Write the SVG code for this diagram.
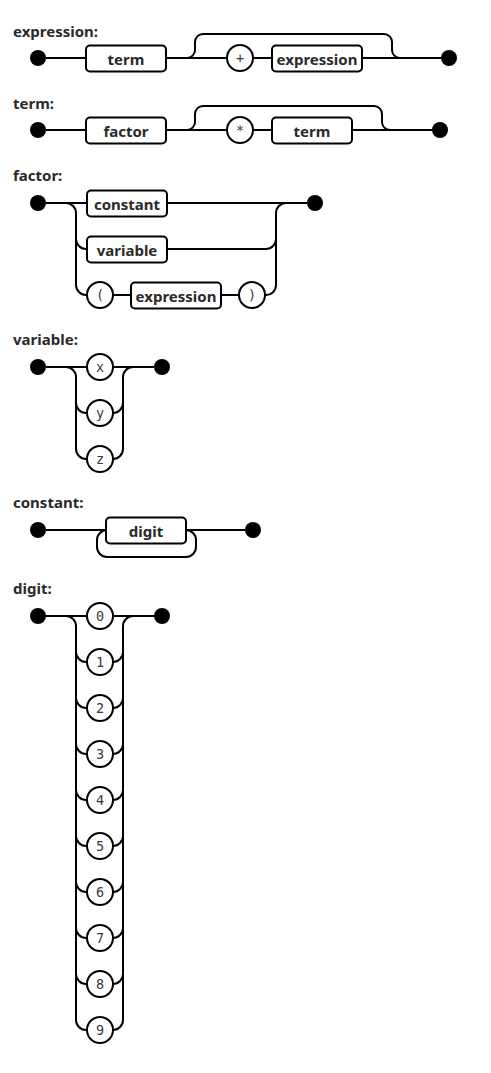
<svg xmlns="http://www.w3.org/2000/svg" width="491" height="1073" viewBox="0 0 491 1073">
<style>
.bg{fill:#fff}
.ln{fill:none;stroke:#000;stroke-width:2}
.dot{fill:#000}
.nt rect{fill:#fff;stroke:#000;stroke-width:2}
.t circle{fill:#fff;stroke:#000;stroke-width:2}
.nt text{font-family:"Noto Sans","Open Sans","DejaVu Sans",sans-serif;font-weight:700;font-size:15px;fill:#2a2a2a;text-anchor:middle}
.t text{font-family:"DejaVu Sans Mono","Liberation Mono",monospace;font-size:13.5px;fill:#3a3a3a;text-anchor:middle}
.lbl{font-family:"Noto Sans","Open Sans","DejaVu Sans",sans-serif;font-weight:700;font-size:15px;fill:#2a2a2a}
</style>
<rect class="bg" x="0" y="0" width="491" height="1073"/>

<g id="labels">
<text class="lbl" x="13" y="37">expression:</text>
<text class="lbl" x="13" y="109">term:</text>
<text class="lbl" x="13" y="181">factor:</text>
<text class="lbl" x="13" y="345">variable:</text>
<text class="lbl" x="13" y="508">constant:</text>
<text class="lbl" x="13" y="594">digit:</text>
</g>

<g id="connectors">
<path class="ln" d="M46,58 H441"/>
<path class="ln" d="M187,58 A8,8 0 0 0 195,50 V42 A8,8 0 0 1 203,34 H384 A8,8 0 0 1 392,42 V50 A8,8 0 0 0 400,58"/>
<path class="ln" d="M46,130 H432"/>
<path class="ln" d="M187,130 A8,8 0 0 0 195,122 V114 A8,8 0 0 1 203,106 H374 A8,8 0 0 1 382,114 V122 A8,8 0 0 0 390,130"/>
<path class="ln" d="M46,203 H307"/>
<path class="ln" d="M66,203 A10,10 0 0 1 76,213 V285 A10,10 0 0 0 86,295 H265"/>
<path class="ln" d="M76,239 A10,10 0 0 0 86,249 H266 A10,10 0 0 0 276,239"/>
<path class="ln" d="M265,295 A10,10 0 0 0 276,285 V213 A10,10 0 0 1 286,203"/>
<path class="ln" d="M46,367 H154"/>
<path class="ln" d="M66,367 A10,10 0 0 1 76,377 V449 A10,10 0 0 0 86,459 H113 A10,10 0 0 0 123,449 V377 A10,10 0 0 1 133,367"/>
<path class="ln" d="M76,403 A10,10 0 0 0 86,413 H113 A10,10 0 0 0 123,403"/>
<path class="ln" d="M46,530 H245"/>
<path class="ln" d="M107,530 A10,10 0 0 0 97,540 V547 A10,10 0 0 0 107,557 H186 A10,10 0 0 0 196,547 V540 A10,10 0 0 0 186,530"/>
<path class="ln" d="M46,616 H154"/>
<path class="ln" d="M66,616 A10,10 0 0 1 76,626 V1020 A10,10 0 0 0 86,1030 H113 A10,10 0 0 0 123,1020 V626 A10,10 0 0 1 133,616"/>
<path class="ln" d="M76,652 A10,10 0 0 0 86,662 H113 A10,10 0 0 0 123,652 M76,698 A10,10 0 0 0 86,708 H113 A10,10 0 0 0 123,698 M76,744 A10,10 0 0 0 86,754 H113 A10,10 0 0 0 123,744 M76,790 A10,10 0 0 0 86,800 H113 A10,10 0 0 0 123,790 M76,836 A10,10 0 0 0 86,846 H113 A10,10 0 0 0 123,836 M76,882 A10,10 0 0 0 86,892 H113 A10,10 0 0 0 123,882 M76,928 A10,10 0 0 0 86,938 H113 A10,10 0 0 0 123,928 M76,974 A10,10 0 0 0 86,984 H113 A10,10 0 0 0 123,974"/>
</g>

<g id="endpoints">
<circle class="dot" cx="38" cy="58" r="8"/><circle class="dot" cx="449" cy="58" r="8"/>
<circle class="dot" cx="38" cy="130" r="8"/><circle class="dot" cx="440" cy="130" r="8"/>
<circle class="dot" cx="38" cy="203" r="8"/><circle class="dot" cx="315" cy="203" r="8"/>
<circle class="dot" cx="38" cy="367" r="8"/><circle class="dot" cx="162" cy="367" r="8"/>
<circle class="dot" cx="38" cy="530" r="8"/><circle class="dot" cx="253" cy="530" r="8"/>
<circle class="dot" cx="38" cy="616" r="8"/><circle class="dot" cx="162" cy="616" r="8"/>
</g>

<g id="expr-term" class="nt"><rect x="86" y="45.5" width="80" height="26" rx="4"/><text x="126" y="64.5">term</text></g>
<g id="expr-plus" class="t"><circle cx="240" cy="58" r="13"/><text x="240" y="63">+</text></g>
<g id="expr-expression" class="nt"><rect x="272" y="45.5" width="90" height="26" rx="4"/><text x="317" y="64.5">expression</text></g>

<g id="term-factor" class="nt"><rect x="86" y="117.5" width="80" height="26" rx="4"/><text x="126" y="136.5">factor</text></g>
<g id="term-star" class="t"><circle cx="240" cy="130" r="13"/><text x="240" y="135">*</text></g>
<g id="term-term" class="nt"><rect x="272" y="117.5" width="80" height="26" rx="4"/><text x="312" y="136.5">term</text></g>

<g id="factor-constant" class="nt"><rect x="87" y="190.5" width="80" height="26" rx="4"/><text x="127" y="209.5">constant</text></g>
<g id="factor-variable" class="nt"><rect x="87" y="236.5" width="80" height="26" rx="4"/><text x="127" y="255.5">variable</text></g>
<g id="factor-lparen" class="t"><circle cx="100" cy="295" r="13"/><text x="100" y="300">(</text></g>
<g id="factor-expression" class="nt"><rect x="131" y="282.5" width="90" height="26" rx="4"/><text x="176" y="301.5">expression</text></g>
<g id="factor-rparen" class="t"><circle cx="252" cy="295" r="13"/><text x="252" y="300">)</text></g>

<g id="var-x" class="t"><circle cx="100" cy="367" r="13"/><text x="100" y="372">x</text></g>
<g id="var-y" class="t"><circle cx="100" cy="413" r="13"/><text x="100" y="418">y</text></g>
<g id="var-z" class="t"><circle cx="100" cy="459" r="13"/><text x="100" y="464">z</text></g>

<g id="const-digit" class="nt"><rect x="106" y="517.5" width="80" height="26" rx="4"/><text x="146" y="536.5">digit</text></g>

<g id="digit-0" class="t"><circle cx="100" cy="616" r="13"/><text x="100" y="621">0</text></g>
<g id="digit-1" class="t"><circle cx="100" cy="662" r="13"/><text x="100" y="667">1</text></g>
<g id="digit-2" class="t"><circle cx="100" cy="708" r="13"/><text x="100" y="713">2</text></g>
<g id="digit-3" class="t"><circle cx="100" cy="754" r="13"/><text x="100" y="759">3</text></g>
<g id="digit-4" class="t"><circle cx="100" cy="800" r="13"/><text x="100" y="805">4</text></g>
<g id="digit-5" class="t"><circle cx="100" cy="846" r="13"/><text x="100" y="851">5</text></g>
<g id="digit-6" class="t"><circle cx="100" cy="892" r="13"/><text x="100" y="897">6</text></g>
<g id="digit-7" class="t"><circle cx="100" cy="938" r="13"/><text x="100" y="943">7</text></g>
<g id="digit-8" class="t"><circle cx="100" cy="984" r="13"/><text x="100" y="989">8</text></g>
<g id="digit-9" class="t"><circle cx="100" cy="1030" r="13"/><text x="100" y="1035">9</text></g>
</svg>
